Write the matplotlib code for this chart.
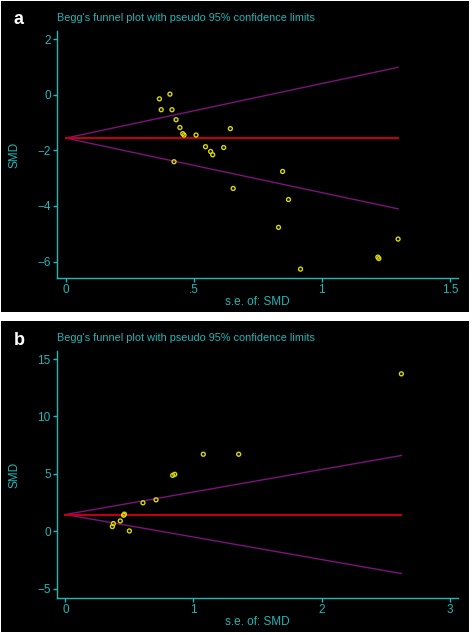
import matplotlib
matplotlib.use("Agg")
import matplotlib.pyplot as plt
from matplotlib.patches import Rectangle
import numpy as np

# panel a data (s.e. of SMD, SMD)
se_a = [0.366, 0.407, 0.373, 0.415, 0.431, 0.446, 0.457, 0.462, 0.509, 0.643,
        0.546, 0.566, 0.574, 0.617, 0.423, 0.654, 0.847, 0.870, 0.831, 0.917,
        1.219, 1.223, 1.298]
smd_a = [-0.15, 0.02, -0.54, -0.54, -0.90, -1.18, -1.40, -1.45, -1.45, -1.22,
         -1.87, -2.04, -2.16, -1.90, -2.41, -3.37, -2.76, -3.77, -4.77, -6.27,
         -5.84, -5.89, -5.19]
pooled_a = -1.56

# panel b data
se_b = [2.623, 1.077, 1.353, 0.838, 0.854, 0.708, 0.606, 0.461, 0.455, 0.429,
        0.375, 0.367, 0.500]
smd_b = [13.71, 6.71, 6.71, 4.87, 4.96, 2.74, 2.48, 1.49, 1.40, 0.90,
         0.67, 0.41, 0.03]
pooled_b = 1.46

cyan = '#1fb8b8'
W, H = 472, 635
fig = plt.figure(figsize=(W / 100, H / 100), dpi=100)
fig.patch.set_facecolor('white')

title = "Begg's funnel plot with pseudo 95% confidence limits"
font = ['Liberation Sans', 'DejaVu Sans']


def panel(top, bottom, letter, se, smd, pooled, xlim, ylim, xticks, xlabels, yticks):
    # black background of the panel
    fig.add_artist(Rectangle((1 / W, 1 - bottom / H), 468 / W, (bottom - top) / H,
                             transform=fig.transFigure, facecolor='black',
                             edgecolor='none', zorder=0))
    ax_top = top + 30
    ax_bot = top + 277
    ax = fig.add_axes([57 / W, 1 - ax_bot / H, 401 / W, (ax_bot - ax_top) / H])
    ax.set_facecolor('black')
    se = np.array(se)
    smax = se.max()
    xs = np.array([0, smax])
    ax.plot(xs, pooled + 1.96 * xs, color='#7c137c', lw=1.0)
    ax.plot(xs, pooled - 1.96 * xs, color='#7c137c', lw=1.0)
    ax.plot(xs, [pooled, pooled], color='#c00010', lw=1.5)
    ax.scatter(se, smd, s=8, marker='o', facecolors='none',
               edgecolors='#d8d800', linewidths=1.0, zorder=3)
    ax.set_xlim(*xlim)
    ax.set_ylim(*ylim)
    ax.set_xticks(xticks)
    ax.set_xticklabels(xlabels)
    ax.set_yticks(yticks)
    for s in ['top', 'right']:
        ax.spines[s].set_visible(False)
    for s in ['left', 'bottom']:
        ax.spines[s].set_color(cyan)
        ax.spines[s].set_linewidth(1.0)
    ax.tick_params(colors=cyan, labelcolor=cyan, direction='out', length=3,
                   width=1, labelsize=8.5, pad=1.5)
    for lab in ax.get_xticklabels() + ax.get_yticklabels():
        lab.set_family(font)
    ax.set_xlabel('s.e. of: SMD', color=cyan, fontsize=8.5, family=font, labelpad=0)
    ax.set_ylabel('SMD', color=cyan, fontsize=8.5, family=font, labelpad=12)
    fig.text(57 / W, 1 - (top + 17) / H, title, color=cyan, fontsize=7.8,
             family=font, va='center', ha='left')
    fig.text(14 / W, 1 - (top + 19) / H, letter, color='white', fontsize=13,
             fontweight='bold', family=font, va='center', ha='left')
    return ax


panel(1, 312, 'a', se_a, smd_a, pooled_a, (-0.034, 1.532), (-6.59, 2.29),
      [0, 0.5, 1, 1.5], ['0', '.5', '1', '1.5'], [-6, -4, -2, 0, 2])
panel(321, 632, 'b', se_b, smd_b, pooled_b, (-0.065, 3.065), (-5.81, 15.7),
      [0, 1, 2, 3], ['0', '1', '2', '3'], [-5, 0, 5, 10, 15])

fig.savefig('out.png', dpi=100, facecolor='white')
